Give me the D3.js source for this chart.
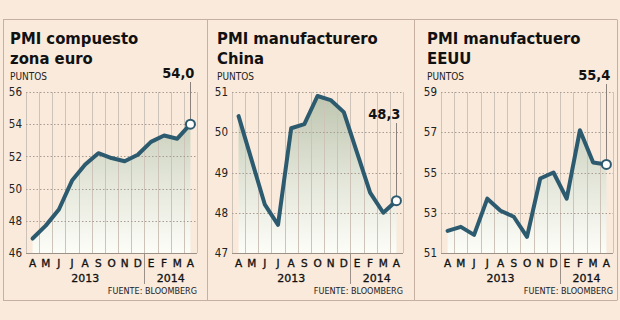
<!DOCTYPE html>
<html><head><meta charset="utf-8">
<script src="https://cdn.jsdelivr.net/npm/d3@7"></script>
<style>html,body{margin:0;padding:0;background:#f9eadc;}svg{display:block;}</style>
</head><body>
<script>
// ---- data ----
const months = ["A","M","J","J","A","S","O","N","D","E","F","M","A"];
const years = [{label:"2013", from:0, to:8},{label:"2014", from:9, to:12}];
const titlesEuro = ["PMI compuesto","zona euro"];
const titlesChina = ["PMI manufacturero","China"];
const titlesUS = ["PMI manufactuero","EEUU"];
const euroValues  = [46.9,47.7,48.7,50.5,51.5,52.2,51.9,51.7,52.1,52.9,53.3,53.1,54.0];
const chinaValues = [50.4,49.3,48.2,47.7,50.1,50.2,50.9,50.8,50.5,49.5,48.5,48.0,48.3];
const usValues    = [52.1,52.3,51.9,53.7,53.1,52.8,51.8,54.7,55.0,53.7,57.1,55.5,55.4];
const euroTicks  = [46,48,50,52,54,56];
const chinaTicks = [47,48,49,50,51];
const usTicks    = [51,53,55,57,59];
const lastLabels = ["54,0","48,3","55,4"];
const unitLabel = "PUNTOS";
const sourceLabel = "FUENTE: BLOOMBERG";

// ---- layout ----
const W=620,H=320;
const panels = [
  {titles:titlesEuro, values:euroValues, ticks:euroTicks, label:lastLabels[0], titleX:10, x0:26, x1:197, labelY:78},
  {titles:titlesChina, values:chinaValues, ticks:chinaTicks, label:lastLabels[1], titleX:217, x0:232, x1:403, labelY:119},
  {titles:titlesUS, values:usValues, ticks:usTicks, label:lastLabels[2], titleX:427, x0:441, x1:613, labelY:80}
];
const yTop=92, yBot=253;
const lineColor="#2c5a6f";
const cond="'DejaVu Sans Condensed','DejaVu Sans',sans-serif";
const reg="'DejaVu Sans',sans-serif";

const svg=d3.select("body").append("svg").attr("width",W).attr("height",H);
svg.append("rect").attr("width",W).attr("height",H).attr("fill","#f9eadc");

const defs=svg.append("defs");
const grad=defs.append("linearGradient").attr("id","ag").attr("gradientUnits","userSpaceOnUse")
  .attr("x1",0).attr("x2",0).attr("y1",yTop).attr("y2",yBot);
grad.append("stop").attr("offset",0).attr("stop-color","#bcc4ad");
grad.append("stop").attr("offset",0.55).attr("stop-color","#e3e6d9");
grad.append("stop").attr("offset",1).attr("stop-color","#fdfdf8");

// frame
const frame="#c6b0a2";
svg.append("line").attr("x1",3).attr("x2",617).attr("y1",19.5).attr("y2",19.5).attr("stroke",frame);
svg.append("line").attr("x1",3).attr("x2",617).attr("y1",300.5).attr("y2",300.5).attr("stroke",frame);
[3.5,207.5,414.5,617.5].forEach(x=>svg.append("line").attr("x1",x).attr("x2",x).attr("y1",19.5).attr("y2",300.5).attr("stroke",frame));

panels.forEach(p=>{
  const g=svg.append("g");
  const xb=d3.scaleBand().domain(d3.range(months.length)).range([p.x0,p.x1]);
  const xc=i=>xb(i)+xb.bandwidth()/2;
  const y=d3.scaleLinear().domain([p.ticks[0],p.ticks[p.ticks.length-1]]).range([yBot,yTop]);

  // titles
  p.titles.forEach((t,i)=>g.append("text").attr("x",p.titleX).attr("y",44+i*19.5).text(t)
    .attr("font-family",cond).attr("font-weight","bold").attr("font-size",16.5).attr("fill","#111"));
  g.append("text").attr("x",p.titleX).attr("y",80).text(unitLabel)
    .attr("font-family",cond).attr("font-size",10).attr("fill","#222");

  // area
  const area=d3.area().x((d,i)=>xc(i)).y0(yBot).y1(d=>y(d));
  g.append("path").datum(p.values).attr("d",area).attr("fill","url(#ag)");

  // vertical grid lines
  const bounds=d3.range(months.length+1).map(i=>i<months.length?xb(i):p.x1);
  bounds.forEach(b=>g.append("line").attr("x1",Math.round(b)+0.5).attr("x2",Math.round(b)+0.5)
    .attr("y1",yTop).attr("y2",yBot).attr("stroke","#cdc3b9").attr("stroke-width",1));

  // horizontal grid + y labels
  const yAxis=d3.axisLeft(y).tickValues(p.ticks).tickSize(0).tickPadding(4).tickFormat(d3.format("d"));
  const ya=g.append("g").attr("transform",`translate(${p.x0},0)`).call(yAxis);
  ya.select(".domain").remove();
  ya.selectAll("text").attr("font-family",cond).attr("font-size",11.5).attr("fill","#222");
  p.ticks.forEach((t,i)=>{
    if(i===0) return;
    g.append("line").attr("x1",p.x0).attr("x2",p.x1).attr("y1",Math.round(y(t))+0.5).attr("y2",Math.round(y(t))+0.5)
      .attr("stroke","#a99c92").attr("stroke-dasharray","1.5,2");
  });
  g.append("line").attr("x1",p.x0).attr("x2",p.x1).attr("y1",yBot+0.5).attr("y2",yBot+0.5).attr("stroke","#9c9189");

  // x axis months
  const xAxis=d3.axisBottom(xb).tickSize(0).tickPadding(7).tickFormat(i=>months[i]);
  const xa=g.append("g").attr("transform",`translate(0,${yBot})`).call(xAxis);
  xa.select(".domain").remove();
  xa.selectAll("text").attr("font-family",reg).attr("font-size",10.5).attr("fill","#111")
    .attr("stroke","#111").attr("stroke-width",0.35);
  years.forEach(yr=>g.append("text").attr("x",(xc(yr.from)+xc(yr.to))/2).attr("y",282).attr("text-anchor","middle")
    .text(yr.label).attr("font-family",reg).attr("font-size",11).attr("fill","#111")
    .attr("stroke","#111").attr("stroke-width",0.3));
  const sep=Math.round(xb(years[1].from))+0.5;
  g.append("line").attr("x1",sep).attr("x2",sep).attr("y1",yBot).attr("y2",284).attr("stroke","#9c9189");
  g.append("text").attr("x",p.x1).attr("y",294).attr("text-anchor","end").text(sourceLabel)
    .attr("font-family",cond).attr("font-size",9).attr("fill","#222");

  // line
  const line=d3.line().x((d,i)=>xc(i)).y(d=>y(d));
  g.append("path").datum(p.values).attr("d",line).attr("fill","none").attr("stroke",lineColor)
    .attr("stroke-width",4).attr("stroke-linejoin","round").attr("stroke-linecap","round");

  // callout
  const li=p.values.length-1, lx=xc(li), ly=y(p.values[li]);
  g.append("line").attr("x1",Math.round(lx)+0.5).attr("x2",Math.round(lx)+0.5).attr("y1",p.labelY+4).attr("y2",ly)
    .attr("stroke","#8a817a").attr("stroke-width",1);
  g.append("circle").attr("cx",lx).attr("cy",ly).attr("r",4.5).attr("fill","#fff").attr("stroke",lineColor).attr("stroke-width",2);
  g.append("text").attr("x",lx+4).attr("y",p.labelY).attr("text-anchor","end").text(p.label)
    .attr("font-family",cond).attr("font-weight","bold").attr("font-size",14.5).attr("fill","#111");
});
</script>
</body></html>
